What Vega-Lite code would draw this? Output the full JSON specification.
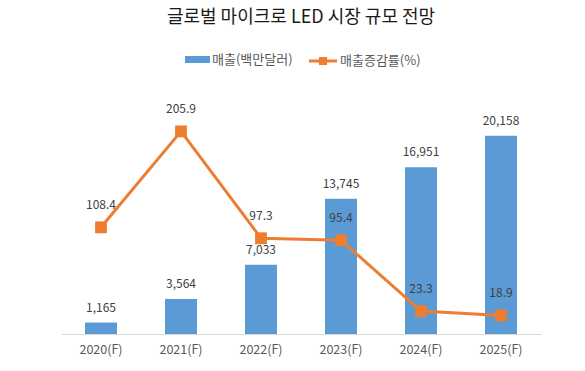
{
  "$schema": "https://vega.github.io/schema/vega-lite/v6.json",
  "width": 480,
  "height": 246,
  "autosize": {"type": "none"},
  "padding": {"left": 61, "top": 88, "right": 44, "bottom": 37},
  "background": "white",
  "config": {
    "view": {"stroke": null},
    "font": "Noto Sans CJK KR",
    "text": {"font": "Noto Sans CJK KR"}
  },
  "title": {
    "text": "글로벌 마이크로 LED 시장 규모 전망",
    "font": "Noto Sans CJK KR",
    "fontSize": 18,
    "fontWeight": "normal",
    "color": "#1a1a1a",
    "anchor": "middle",
    "frame": "group",
    "offset": 20
  },
  "data": {
    "values": [
      {"year": "2020(F)", "sales": 1165, "growth": 108.4, "s1": "매출(백만달러)", "s2": "매출증감률(%)"},
      {"year": "2021(F)", "sales": 3564, "growth": 205.9, "s1": "매출(백만달러)", "s2": "매출증감률(%)"},
      {"year": "2022(F)", "sales": 7033, "growth": 97.3, "s1": "매출(백만달러)", "s2": "매출증감률(%)"},
      {"year": "2023(F)", "sales": 13745, "growth": 95.4, "s1": "매출(백만달러)", "s2": "매출증감률(%)"},
      {"year": "2024(F)", "sales": 16951, "growth": 23.3, "s1": "매출(백만달러)", "s2": "매출증감률(%)"},
      {"year": "2025(F)", "sales": 20158, "growth": 18.9, "s1": "매출(백만달러)", "s2": "매출증감률(%)"}
    ]
  },
  "encoding": {
    "x": {
      "field": "year",
      "type": "nominal",
      "sort": null,
      "scale": {"paddingInner": 0.6, "paddingOuter": 0.3},
      "axis": {
        "title": null,
        "labelAngle": 0,
        "ticks": false,
        "domainColor": "#D9D9D9",
        "domainWidth": 1,
        "labelColor": "#595959",
        "labelFontSize": 12.5,
        "labelFont": "Noto Sans CJK KR",
        "labelPadding": 9,
        "grid": false
      }
    }
  },
  "layer": [
    {
      "layer": [
        {
          "mark": {"type": "bar"},
          "encoding": {
            "y": {"field": "sales", "type": "quantitative", "scale": {"domain": [0, 25000]}, "axis": null},
            "color": {
              "field": "s1",
              "type": "nominal",
              "scale": {"range": ["#5B9BD5"]},
              "legend": {
                "title": null,
                "orient": "none",
                "legendX": 124,
                "legendY": -41,
                "symbolType": "M-1,-0.28H1V0.28H-1Z",
                "symbolSize": 625,
                "symbolStrokeWidth": 0,
                "labelFontSize": 13,
                "labelColor": "#595959",
                "labelFont": "Noto Sans CJK KR",
                "labelOffset": 2
              }
            }
          }
        },
        {
          "mark": {"type": "text", "baseline": "bottom", "dy": -8, "fontSize": 12, "color": "#404040"},
          "encoding": {
            "y": {"field": "sales", "type": "quantitative", "scale": {"domain": [0, 25000]}, "axis": null},
            "text": {"field": "sales", "type": "quantitative", "format": ","}
          }
        }
      ]
    },
    {
      "layer": [
        {
          "mark": {"type": "line", "strokeWidth": 3},
          "encoding": {
            "y": {"field": "growth", "type": "quantitative", "scale": {"domain": [0, 250]}, "axis": null},
            "stroke": {
              "field": "s2",
              "type": "nominal",
              "scale": {"range": ["#ED7D31"]},
              "legend": {
                "title": null,
                "orient": "none",
                "legendX": 248,
                "legendY": -41,
                "symbolType": "M-1,-0.11H1V0.11H-1Z M-0.29,-0.29H0.29V0.29H-0.29Z",
                "symbolSize": 784,
                "symbolFillColor": "#ED7D31",
                "symbolStrokeWidth": 0,
                "labelFontSize": 13,
                "labelColor": "#595959",
                "labelFont": "Noto Sans CJK KR",
                "labelOffset": 3
              }
            }
          }
        },
        {
          "mark": {"type": "square", "size": 140, "color": "#ED7D31", "opacity": 1, "filled": true},
          "encoding": {
            "y": {"field": "growth", "type": "quantitative", "scale": {"domain": [0, 250]}, "axis": null}
          }
        },
        {
          "mark": {"type": "text", "baseline": "bottom", "dy": -15, "fontSize": 12, "color": "#404040"},
          "encoding": {
            "y": {"field": "growth", "type": "quantitative", "scale": {"domain": [0, 250]}, "axis": null},
            "text": {"field": "growth", "type": "quantitative", "format": ".1f"}
          }
        }
      ]
    }
  ],
  "resolve": {"scale": {"y": "independent", "color": "independent", "stroke": "independent"}}
}
